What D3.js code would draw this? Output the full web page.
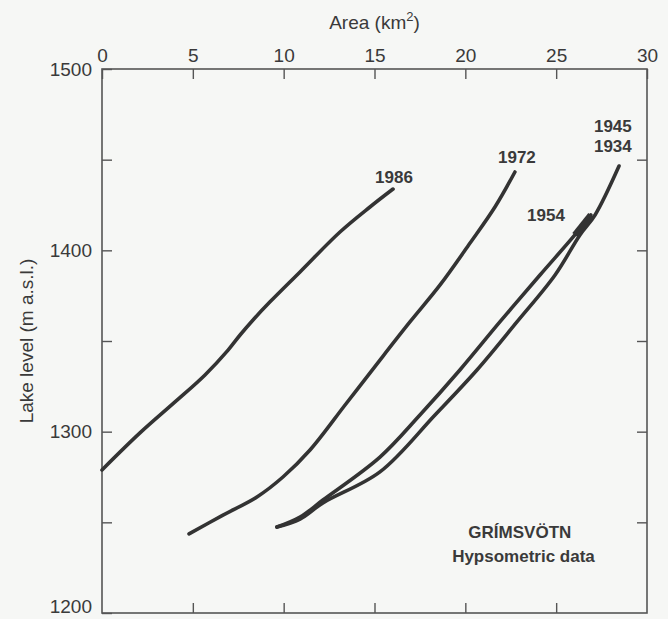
<!DOCTYPE html>
<html>
<head>
<meta charset="utf-8">
<script src="https://cdn.jsdelivr.net/npm/d3@7"></script>
<style>
  html, body { margin: 0; padding: 0; background: #f6f7f5; }
  svg { display: block; font-family: "Liberation Sans", Arial, sans-serif; }
</style>
</head>
<body>
<svg id="chart" width="668" height="619"></svg>
<script>
// ---- data (area km², lake level m a.s.l.) ----
const areaTicks = [0, 5, 10, 15, 20, 25, 30];
const levelTicks = [1200, 1250, 1300, 1350, 1400, 1450, 1500];
const levelLabels = [1200, 1300, 1400, 1500];

const curve1986 = [[0, 1278.9], [2.09, 1299.3], [4.02, 1316.4], [5.67, 1331.3], [6.94, 1345.0],
  [7.60, 1353.3], [8.35, 1362.0], [9.25, 1371.6], [10.90, 1388.1], [13.10, 1410.1],
  [14.75, 1423.9], [16.02, 1433.8]];
const curve1972 = [[4.79, 1243.6], [6.66, 1254.0], [8.53, 1264.0], [9.96, 1275.0], [11.45, 1289.9],
  [13.38, 1314.7], [15.30, 1339.5], [16.95, 1360.5], [18.61, 1380.9], [20.26, 1404.0],
  [21.63, 1423.9], [22.73, 1443.2]];
const curve1954 = [[9.63, 1247.4], [10.90, 1252.9], [12.16, 1262.3], [15.30, 1286.0], [17.50, 1309.2],
  [19.70, 1334.0], [21.90, 1360.5], [24.11, 1386.4], [26.03, 1408.5], [26.91, 1419.5]];
const curve1934 = [[9.63, 1247.4], [10.90, 1251.8], [12.16, 1260.7], [15.30, 1277.8], [18.33, 1309.2],
  [20.64, 1334.0], [22.84, 1360.5], [24.94, 1386.4], [26.31, 1408.5], [27.14, 1419.5], [28.46, 1446.5]];

const curveLabels = [
  { text: "1986", area: 16.07, level: 1437.1 },
  { text: "1972", area: 22.84, level: 1448.2 },
  { text: "1945", area: 28.12, level: 1465.3 },
  { text: "1934", area: 28.12, level: 1454.2 },
  { text: "1954", area: 24.44, level: 1416.0 }
];
const noteLines = [
  { text: "GRÍMSVÖTN", area: 23.0, level: 1241.4 },
  { text: "Hypsometric data", area: 23.2, level: 1228.1 }
];

// ---- drawing ----
const svg = d3.select("#chart");
const W = 668, H = 619;
const mLeft = 102, mRight = 647, mTop = 69, mBottom = 613;
const ink = "#3a3a3a";

const x = d3.scaleLinear().domain([0, 30]).range([mLeft, mRight]);
const y = d3.scaleLinear().domain([1200, 1500]).range([mBottom, mTop]);

svg.append("rect").attr("width", W).attr("height", H).attr("fill", "#f6f7f5");

function styleAxis(g) {
  g.selectAll("path.domain").remove();
  g.selectAll(".tick line").attr("stroke", "#555").attr("stroke-width", 1.4);
  g.selectAll(".tick text").attr("fill", ink).attr("font-size", 19)
    .attr("font-family", "Liberation Sans, Arial, sans-serif");
}

svg.append("g").attr("transform", `translate(0,${mTop})`)
  .call(d3.axisTop(x).tickValues(areaTicks).tickSize(-10).tickSizeOuter(0).tickPadding(7).tickFormat(d3.format("d")))
  .call(styleAxis);
svg.append("g").attr("transform", `translate(0,${mBottom})`)
  .call(d3.axisBottom(x).tickValues(areaTicks.slice(1, -1)).tickSize(-10).tickSizeOuter(0).tickFormat(""))
  .call(styleAxis);
const yAxisG = svg.append("g").attr("transform", `translate(${mLeft},0)`)
  .call(d3.axisLeft(y).tickValues(levelTicks).tickSize(-10).tickSizeOuter(0).tickPadding(10)
    .tickFormat(d => levelLabels.includes(d) ? d3.format("d")(d) : ""))
  .call(styleAxis);
yAxisG.selectAll(".tick text").filter(d => d === 1200).attr("dy", "-0.05em");
svg.append("g").attr("transform", `translate(${mRight},0)`)
  .call(d3.axisRight(y).tickValues(levelTicks.slice(1, -1)).tickSize(-10).tickSizeOuter(0).tickFormat(""))
  .call(styleAxis);

// frame
svg.append("rect").attr("x", mLeft).attr("y", mTop)
  .attr("width", mRight - mLeft).attr("height", mBottom - mTop)
  .attr("fill", "none").attr("stroke", "#555").attr("stroke-width", 1.6);

// axis titles
const title = svg.append("text").attr("x", (mLeft + mRight) / 2).attr("y", 29)
  .attr("text-anchor", "middle").attr("font-size", 19).attr("fill", ink);
title.append("tspan").text("Area (km");
title.append("tspan").attr("font-size", 13).attr("dy", -8).text("2");
title.append("tspan").attr("dy", 8).text(")");

svg.append("text").attr("transform", `translate(33,${(mTop + mBottom) / 2}) rotate(-90)`)
  .attr("text-anchor", "middle").attr("font-size", 19).attr("fill", ink)
  .text("Lake level (m a.s.l.)");

// curves
const line = d3.line().x(d => x(d[0])).y(d => y(d[1])).curve(d3.curveCatmullRom.alpha(0.5));
[curve1986, curve1972, curve1954, curve1934].forEach(c => {
  svg.append("path").attr("d", line(c)).attr("fill", "none")
    .attr("stroke", "#333").attr("stroke-width", 3.6).attr("stroke-linecap", "round");
});
// thick end of the 1954 curve
svg.append("path").attr("d", d3.line().x(d => x(d[0])).y(d => y(d[1]))(curve1954.slice(-2)))
  .attr("fill", "none").attr("stroke", "#333").attr("stroke-width", 6.5);

// labels
svg.selectAll("text.clabel").data(curveLabels).join("text").attr("class", "clabel")
  .attr("x", d => x(d.area)).attr("y", d => y(d.level))
  .attr("text-anchor", "middle").attr("font-size", 17).attr("font-weight", "bold")
  .attr("fill", ink).text(d => d.text);
svg.selectAll("text.note").data(noteLines).join("text").attr("class", "note")
  .attr("x", d => x(d.area)).attr("y", d => y(d.level))
  .attr("text-anchor", "middle").attr("font-size", 17).attr("font-weight", "bold")
  .attr("fill", ink).text(d => d.text);
</script>
</body>
</html>
